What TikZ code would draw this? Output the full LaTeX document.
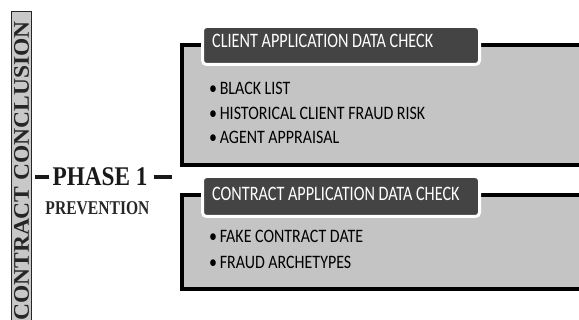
\documentclass[tikz,border=0pt]{standalone}
\usepackage{fontspec}
\usepackage{graphicx}
\setmainfont{Liberation Serif}
\newfontfamily\carl{Carlito}
\definecolor{boxgray}{HTML}{C4C4C4}
\definecolor{bargray}{HTML}{C8C8C8}
\definecolor{tabgray}{HTML}{444444}
\tikzset{
  panel/.style={draw=black, line width=4pt, fill=boxgray},
  tabbox/.style={draw=white, line width=3pt, fill=tabgray, rounded corners=4pt, anchor=north west, inner sep=0pt},
  tabtext/.style={anchor=base west, inner sep=0pt, text=white, font=\carl\fontsize{20.5}{20.5}\selectfont},
  item/.style={anchor=base west, inner sep=0pt, text=black, font=\carl\fontsize{19}{19}\selectfont},
  dashline/.style={line width=3.5pt, black!90}
}
\newcommand\itm[1]{\scalebox{0.84}[1]{\textbullet\,#1}}
\newcommand\ttl[1]{\scalebox{0.79}[1]{#1}}
\begin{document}
\begin{tikzpicture}[x=1pt, y=-1pt]
\useasboundingbox (0,0) rectangle (579,320);
\clip (0,0) rectangle (579,320);
% left bar
\node[draw=black!85, line width=1.2pt, fill=bargray, anchor=north west, minimum width=20pt, minimum height=320pt, inner sep=0pt] (bar) at (11,11) {};
\node[rotate=90, inner sep=0pt, font=\bfseries\fontsize{23.5}{23.5}\selectfont, text=black!85] (barlabel) at (21.5,171) {\scalebox{1}[0.95]{CONTRACT CONCLUSION}};
% phase
\node[anchor=base, inner sep=0pt, font=\bfseries\fontsize{27}{27}\selectfont, text=black!90] (phase) at (100,186) {\scalebox{0.86}[1]{PHASE 1}};
\node[anchor=base, inner sep=0pt, font=\bfseries\fontsize{19.5}{19.5}\selectfont, text=black!85] (prev) at (97.5,215) {\scalebox{0.8}[1]{PREVENTION}};
\coordinate (dl) at (35,177);
\coordinate (dr) at (172,177);
\draw[dashline] ([xshift=-3pt]phase.west |- dl) -- (dl);
\draw[dashline] ([xshift=6pt]phase.east |- dr) -- (dr);
% top panel
\node[panel, anchor=north west, minimum width=403pt, minimum height=120pt, inner sep=0pt] (p1) at (180,43) {};
\node[tabbox, minimum width=277pt, minimum height=38pt] (t1) at (201,25) {};
\node[tabtext] (t1txt) at (212,48) {\ttl{CLIENT APPLICATION DATA CHECK}};
\node[item] (a1) at (209,95) {\itm{BLACK LIST}};
\node[item] (a2) at (209,120) {\itm{HISTORICAL CLIENT FRAUD RISK}};
\node[item] (a3) at (209,144) {\itm{AGENT APPRAISAL}};
% bottom panel
\node[panel, anchor=north west, minimum width=403pt, minimum height=94pt, inner sep=0pt] (p2) at (180,193) {};
\node[tabbox, minimum width=277pt, minimum height=40pt] (t2) at (201,175) {};
\node[tabtext] (t2txt) at (212,200.5) {\ttl{CONTRACT APPLICATION DATA CHECK}};
\node[item] (b1) at (209,243) {\itm{FAKE CONTRACT DATE}};
\node[item] (b2) at (209,269) {\itm{FRAUD ARCHETYPES}};
\end{tikzpicture}
\end{document}
